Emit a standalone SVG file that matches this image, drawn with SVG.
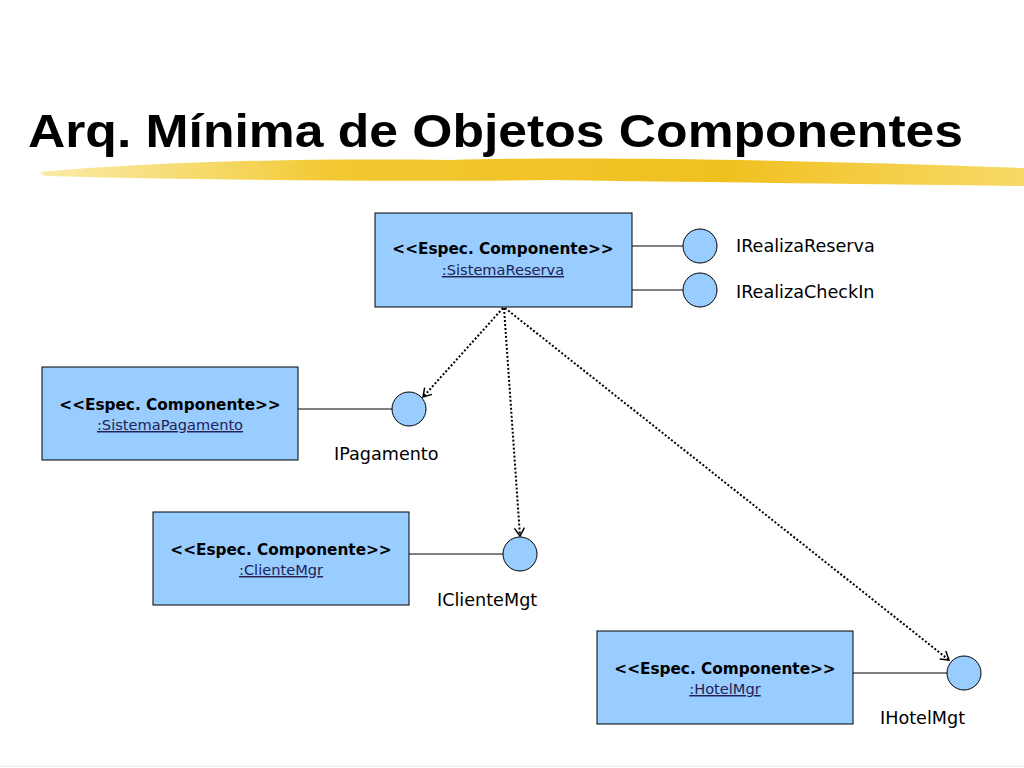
<svg xmlns="http://www.w3.org/2000/svg" width="1024" height="768" viewBox="0 0 1024 768">
<style>
.box{fill:#99ccff;stroke:#000;stroke-width:1}
.ball{fill:#99ccff;stroke:#000;stroke-width:1}
.lnk{stroke:#000;stroke-width:1;fill:none}
.dep{stroke:#000;stroke-width:2;stroke-dasharray:2 2;fill:none}
.st{font-family:"DejaVu Sans",Verdana,sans-serif;font-weight:bold;font-size:15.3px;text-anchor:middle}
.nm{font-family:"DejaVu Sans",Verdana,sans-serif;font-size:14.6px;text-anchor:middle;text-decoration:underline;fill:#222255}
.lb{font-family:"DejaVu Sans",Verdana,sans-serif;font-size:17.6px}
.title{font-family:"Liberation Sans",Arial,sans-serif;font-weight:bold;font-size:47px}
</style>
<defs>
<marker id="arr" markerWidth="12" markerHeight="12" refX="10" refY="6" orient="auto" markerUnits="userSpaceOnUse">
<path d="M2,1 L10,6 L2,11" fill="none" stroke="#000" stroke-width="1.5"/>
</marker>
<linearGradient id="brush" x1="0" y1="0" x2="1" y2="0">
<stop offset="0" stop-color="#f7dc6a" stop-opacity="0.6"/>
<stop offset="0.3" stop-color="#f2c830"/>
<stop offset="0.7" stop-color="#f0c020"/>
<stop offset="1" stop-color="#f5cf40" stop-opacity="0.8"/>
</linearGradient>
</defs>
<rect width="1024" height="768" fill="#fff"/>
<g id="title">
<path d="M40,172 C150,162 300,158 450,160 C600,156 800,160 1024,168 L1024,186 C850,184 700,182 550,180 C400,182 200,180 45,176 Z" fill="url(#brush)"/>
<text class="title" x="28" y="147" textLength="935" lengthAdjust="spacingAndGlyphs">Arq. Mínima de Objetos Componentes</text>
</g>
<g id="connectors">
<line class="lnk" x1="632" y1="246" x2="683" y2="246"/>
<line class="lnk" x1="632" y1="290" x2="683" y2="290"/>
<line class="lnk" x1="298" y1="409" x2="392" y2="409"/>
<line class="lnk" x1="409" y1="554" x2="503" y2="554"/>
<line class="lnk" x1="853" y1="673" x2="947" y2="673"/>
<line class="dep" x1="503" y1="308" x2="423" y2="397" marker-end="url(#arr)"/>
<line class="dep" x1="504" y1="308" x2="520" y2="536" marker-end="url(#arr)"/>
<line class="dep" x1="505" y1="308" x2="949" y2="660" marker-end="url(#arr)"/>
</g>
<g id="SistemaReserva">
<rect class="box" x="375" y="213" width="257" height="94"/>
<text class="st" x="503" y="254">&lt;&lt;Espec. Componente&gt;&gt;</text>
<text class="nm" x="503" y="275">:SistemaReserva</text>
</g>
<g id="IRealizaReserva">
<circle class="ball" cx="700" cy="246" r="17"/>
<text class="lb" x="736" y="252">IRealizaReserva</text>
</g>
<g id="IRealizaCheckIn">
<circle class="ball" cx="700" cy="290" r="17"/>
<text class="lb" x="736" y="298">IRealizaCheckIn</text>
</g>
<g id="SistemaPagamento">
<rect class="box" x="42" y="367" width="256" height="93"/>
<text class="st" x="170" y="410">&lt;&lt;Espec. Componente&gt;&gt;</text>
<text class="nm" x="170" y="430">:SistemaPagamento</text>
</g>
<g id="IPagamento">
<circle class="ball" cx="409" cy="409" r="17"/>
<text class="lb" x="334" y="460">IPagamento</text>
</g>
<g id="ClienteMgr">
<rect class="box" x="153" y="512" width="256" height="93"/>
<text class="st" x="281" y="555">&lt;&lt;Espec. Componente&gt;&gt;</text>
<text class="nm" x="281" y="575">:ClienteMgr</text>
</g>
<g id="IClienteMgt">
<circle class="ball" cx="520" cy="554" r="17"/>
<text class="lb" x="437" y="606">IClienteMgt</text>
</g>
<g id="HotelMgr">
<rect class="box" x="597" y="631" width="256" height="93"/>
<text class="st" x="725" y="674">&lt;&lt;Espec. Componente&gt;&gt;</text>
<text class="nm" x="725" y="694">:HotelMgr</text>
</g>
<g id="IHotelMgt">
<circle class="ball" cx="964" cy="673" r="17"/>
<text class="lb" x="880" y="724">IHotelMgt</text>
</g>
<line x1="0" y1="766" x2="1024" y2="766" stroke="#e6e6e6" stroke-width="1"/>
</svg>
